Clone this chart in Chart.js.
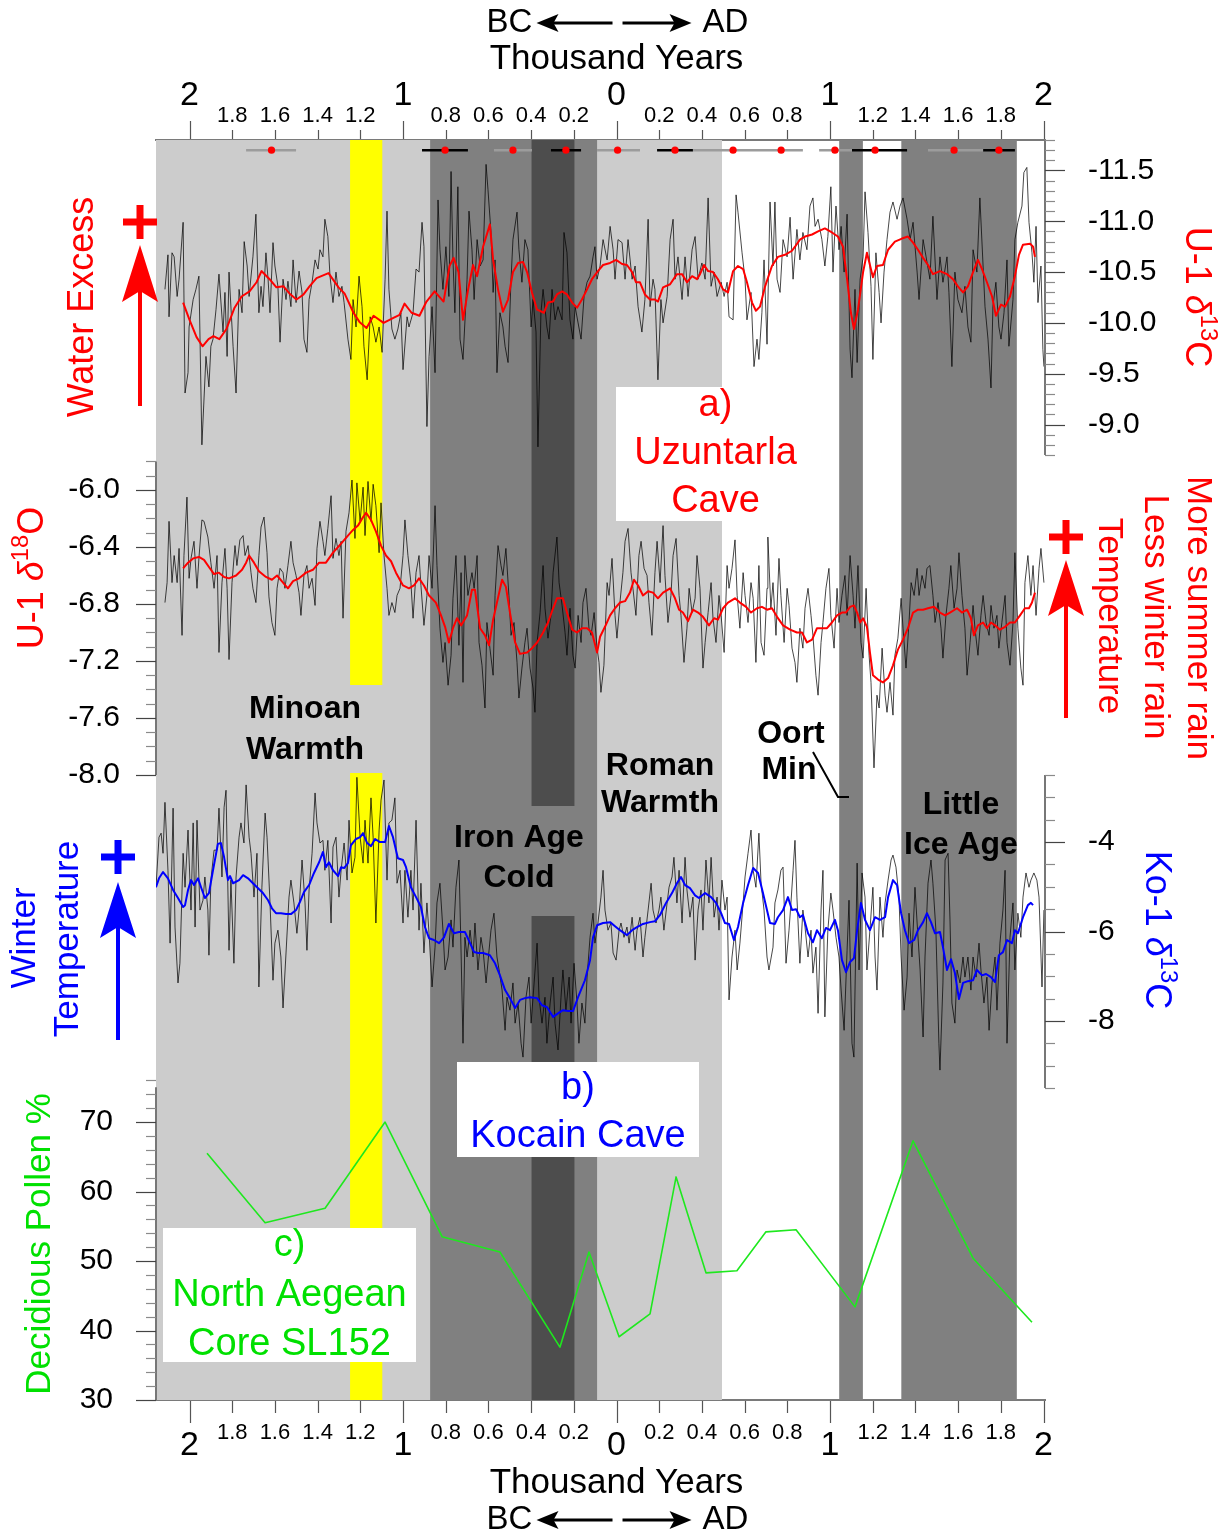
<!DOCTYPE html>
<html>
<head>
<meta charset="utf-8">
<title>Uzuntarla and Kocain cave isotope records with North Aegean pollen</title>
<style>
  html, body { margin: 0; padding: 0; background: #ffffff; }
  canvas { display: block; }
</style>
<script src="https://cdn.jsdelivr.net/npm/chart.js@4.4.1/dist/chart.umd.min.js"></script>
</head>
<body>
<canvas id="chart" width="1224" height="1539"></canvas>
<script>
const FONT = "'Liberation Sans', Arial, Helvetica, sans-serif";

// ---- time axis (years AD, BC negative) ----
const yearMin = -2157;
const yearMax = 2007;
const yearTicks = [-2000,-1800,-1600,-1400,-1200,-1000,-800,-600,-400,-200,0,200,400,600,800,1000,1200,1400,1600,1800,2000];

// ---- a) Uzuntarla Cave, U-1 d13C (per mil): [year, value] ----
const u1C13Raw = [[-2115,-10.33],[-2101,-10.67],[-2096,-10.06],[-2082,-10.69],[-2072,-10.65],[-2058,-10.26],[-2049,-10.43],[-2030,-10.99],[-2021,-9.31],[-2007,-9.51],[-2002,-9.96],[-1983,-10.23],[-1970,-10.33],[-1956,-10.46],[-1942,-8.80],[-1923,-9.67],[-1909,-9.37],[-1900,-9.77],[-1890,-9.84],[-1876,-10.13],[-1862,-10.48],[-1843,-9.91],[-1834,-10.30],[-1824,-9.67],[-1815,-10.50],[-1796,-9.77],[-1782,-9.31],[-1768,-10.33],[-1754,-10.10],[-1744,-10.80],[-1730,-10.56],[-1721,-10.26],[-1703,-10.65],[-1689,-11.07],[-1675,-10.10],[-1665,-10.36],[-1656,-10.16],[-1642,-10.69],[-1632,-10.43],[-1623,-10.10],[-1609,-10.79],[-1600,-10.56],[-1586,-10.36],[-1576,-9.81],[-1562,-10.43],[-1548,-10.23],[-1539,-10.41],[-1525,-10.16],[-1515,-10.62],[-1501,-10.20],[-1487,-10.51],[-1473,-10.30],[-1464,-9.84],[-1450,-9.71],[-1440,-10.23],[-1426,-10.40],[-1412,-10.62],[-1398,-10.53],[-1389,-10.72],[-1375,-10.65],[-1366,-11.02],[-1352,-10.85],[-1342,-10.46],[-1328,-10.20],[-1314,-10.50],[-1300,-10.26],[-1286,-10.36],[-1276,-10.20],[-1258,-9.84],[-1244,-9.64],[-1234,-10.23],[-1220,-9.96],[-1206,-10.46],[-1192,-10.16],[-1183,-9.77],[-1168,-9.44],[-1154,-10.06],[-1140,-9.96],[-1127,-9.81],[-1112,-9.96],[-1098,-9.71],[-1084,-10.43],[-1075,-11.10],[-1066,-10.33],[-1052,-9.94],[-1038,-9.84],[-1024,-9.94],[-1010,-10.10],[-1000,-9.54],[-981,-10.06],[-972,-9.96],[-953,-10.10],[-939,-10.53],[-925,-10.50],[-911,-10.99],[-902,-10.75],[-888,-8.98],[-878,-9.67],[-864,-10.16],[-850,-9.51],[-836,-11.21],[-827,-10.72],[-813,-10.33],[-799,-10.75],[-785,-10.26],[-775,-11.49],[-766,-10.62],[-757,-10.10],[-743,-11.34],[-733,-9.84],[-719,-9.64],[-700,-10.43],[-691,-11.10],[-677,-10.72],[-667,-10.23],[-653,-10.82],[-639,-10.56],[-625,-10.62],[-611,-11.56],[-602,-11.31],[-588,-10.89],[-578,-10.30],[-569,-10.62],[-560,-9.51],[-546,-10.10],[-532,-9.96],[-522,-9.77],[-508,-9.61],[-494,-10.43],[-485,-10.82],[-466,-11.09],[-457,-10.72],[-443,-10.40],[-429,-10.82],[-415,-10.72],[-400,-9.96],[-391,-10.23],[-377,-9.91],[-368,-8.78],[-354,-10.10],[-344,-10.33],[-326,-9.96],[-316,-9.84],[-302,-10.33],[-288,-10.03],[-274,-10.16],[-255,-10.03],[-246,-10.89],[-232,-10.69],[-218,-10.03],[-204,-9.84],[-194,-10.16],[-180,-10.00],[-166,-9.84],[-152,-10.26],[-138,-10.40],[-124,-10.46],[-110,-10.65],[-101,-10.75],[-91,-10.43],[-77,-10.56],[-63,-10.82],[-44,-10.62],[-30,-10.95],[-16,-10.72],[-7,-10.43],[7,-10.82],[26,-10.79],[40,-10.43],[54,-10.82],[73,-10.43],[87,-10.56],[101,-10.16],[119,-9.91],[133,-10.23],[148,-11.02],[157,-10.16],[171,-10.43],[180,-10.33],[194,-9.44],[208,-10.23],[218,-10.00],[237,-10.26],[251,-10.82],[265,-11.02],[274,-10.43],[288,-10.65],[307,-10.23],[321,-10.65],[335,-10.26],[354,-10.72],[368,-10.85],[382,-10.43],[400,-10.59],[415,-10.43],[429,-11.23],[443,-10.36],[457,-10.50],[471,-10.26],[490,-10.40],[504,-10.26],[518,-10.40],[527,-10.06],[546,-10.03],[560,-11.26],[569,-11.09],[588,-10.69],[602,-10.43],[611,-10.03],[630,-10.30],[644,-9.57],[658,-9.84],[667,-9.64],[681,-10.10],[691,-10.62],[705,-9.79],[719,-11.19],[733,-10.56],[742,-11.19],[752,-10.43],[766,-10.30],[780,-10.82],[799,-10.65],[813,-11.04],[827,-10.43],[845,-10.92],[859,-10.62],[873,-10.89],[892,-10.72],[906,-11.15],[920,-11.23],[930,-10.95],[944,-11.02],[962,-10.82],[976,-10.56],[990,-10.85],[1004,-11.34],[1014,-10.50],[1028,-11.15],[1042,-10.72],[1052,-10.95],[1066,-10.50],[1080,-11.07],[1094,-9.74],[1103,-9.46],[1117,-10.33],[1127,-9.61],[1141,-10.43],[1155,-10.65],[1164,-11.29],[1178,-10.89],[1192,-10.36],[1201,-9.64],[1215,-10.69],[1230,-10.30],[1239,-10.00],[1253,-10.50],[1267,-10.82],[1281,-11.09],[1295,-11.19],[1314,-11.02],[1328,-11.15],[1342,-11.23],[1361,-11.02],[1375,-10.82],[1389,-10.99],[1408,-10.50],[1417,-10.23],[1436,-10.82],[1450,-10.65],[1468,-10.43],[1482,-11.05],[1501,-10.23],[1515,-10.65],[1529,-10.40],[1548,-10.65],[1557,-10.30],[1571,-9.57],[1585,-10.50],[1599,-10.23],[1618,-10.10],[1632,-10.36],[1646,-9.96],[1660,-9.81],[1670,-10.72],[1688,-10.50],[1702,-11.23],[1717,-10.56],[1726,-10.16],[1740,-9.84],[1754,-9.36],[1763,-10.16],[1777,-10.40],[1791,-9.96],[1801,-9.84],[1815,-10.10],[1829,-10.62],[1838,-9.77],[1857,-10.23],[1866,-10.82],[1880,-10.99],[1899,-11.15],[1908,-11.48],[1922,-11.53],[1932,-10.99],[1946,-10.69],[1955,-10.40],[1965,-10.95],[1974,-10.20],[1988,-10.56],[1997,-9.74],[2002,-9.57]];

const u1C13Smooth = [[-2030,-10.20],[-2000,-10.03],[-1967,-9.86],[-1939,-9.77],[-1911,-9.84],[-1888,-9.87],[-1860,-9.84],[-1827,-9.94],[-1789,-10.15],[-1756,-10.26],[-1719,-10.31],[-1686,-10.40],[-1663,-10.51],[-1625,-10.43],[-1593,-10.35],[-1560,-10.36],[-1532,-10.29],[-1499,-10.23],[-1466,-10.28],[-1438,-10.36],[-1405,-10.44],[-1349,-10.49],[-1302,-10.35],[-1274,-10.29],[-1232,-10.10],[-1204,-10.01],[-1171,-9.95],[-1138,-10.07],[-1091,-10.00],[-1045,-10.05],[-1016,-10.08],[-993,-10.19],[-960,-10.10],[-923,-10.07],[-890,-10.21],[-852,-10.31],[-810,-10.21],[-782,-10.56],[-763,-10.64],[-740,-10.50],[-719,-10.03],[-695,-10.33],[-672,-10.57],[-653,-10.46],[-625,-10.75],[-593,-10.97],[-578,-10.62],[-555,-10.33],[-532,-10.11],[-508,-10.23],[-485,-10.50],[-461,-10.59],[-438,-10.60],[-419,-10.50],[-396,-10.30],[-372,-10.13],[-340,-10.10],[-321,-10.20],[-297,-10.21],[-279,-10.28],[-255,-10.31],[-232,-10.28],[-208,-10.20],[-185,-10.15],[-162,-10.23],[-138,-10.33],[-115,-10.43],[-87,-10.51],[-63,-10.57],[-30,-10.59],[-2,-10.62],[26,-10.58],[49,-10.57],[73,-10.50],[91,-10.40],[110,-10.40],[133,-10.28],[157,-10.23],[180,-10.23],[194,-10.21],[218,-10.35],[251,-10.38],[283,-10.48],[307,-10.48],[330,-10.40],[354,-10.46],[377,-10.43],[391,-10.48],[410,-10.57],[429,-10.51],[452,-10.50],[475,-10.43],[499,-10.33],[522,-10.30],[546,-10.51],[569,-10.56],[593,-10.53],[611,-10.40],[635,-10.20],[653,-10.12],[672,-10.16],[696,-10.36],[728,-10.56],[756,-10.65],[789,-10.67],[822,-10.71],[836,-10.75],[859,-10.82],[883,-10.85],[916,-10.87],[944,-10.90],[976,-10.93],[1009,-10.89],[1037,-10.85],[1061,-10.75],[1080,-10.43],[1098,-10.10],[1112,-9.94],[1131,-10.13],[1155,-10.50],[1173,-10.69],[1201,-10.45],[1220,-10.56],[1248,-10.57],[1272,-10.72],[1304,-10.80],[1337,-10.83],[1365,-10.85],[1389,-10.79],[1412,-10.72],[1436,-10.64],[1459,-10.57],[1482,-10.48],[1515,-10.51],[1548,-10.48],[1576,-10.43],[1599,-10.36],[1623,-10.30],[1646,-10.36],[1670,-10.50],[1693,-10.62],[1712,-10.53],[1735,-10.40],[1759,-10.26],[1777,-10.07],[1801,-10.18],[1820,-10.16],[1843,-10.26],[1866,-10.46],[1885,-10.67],[1904,-10.77],[1937,-10.78],[1951,-10.75],[1960,-10.65]];

// ---- a) Uzuntarla Cave, U-1 d18O (per mil) ----
const u1O18Raw = [[-2115,-6.79],[-2105,-6.65],[-2096,-6.22],[-2082,-6.65],[-2072,-6.46],[-2058,-6.65],[-2049,-6.41],[-2035,-7.02],[-2026,-6.46],[-2012,-6.05],[-2002,-6.62],[-1993,-6.48],[-1979,-6.36],[-1965,-6.69],[-1956,-6.48],[-1942,-6.21],[-1932,-6.22],[-1914,-6.33],[-1900,-6.51],[-1885,-6.69],[-1871,-6.46],[-1862,-7.14],[-1848,-6.65],[-1834,-6.41],[-1824,-6.69],[-1815,-7.19],[-1801,-6.65],[-1787,-6.39],[-1778,-6.53],[-1764,-6.35],[-1749,-6.32],[-1740,-6.46],[-1726,-6.39],[-1712,-6.58],[-1703,-6.69],[-1689,-6.79],[-1675,-6.46],[-1665,-6.26],[-1651,-6.19],[-1637,-6.44],[-1628,-6.75],[-1614,-6.93],[-1600,-7.02],[-1590,-6.69],[-1576,-6.55],[-1562,-6.58],[-1553,-6.69],[-1539,-6.53],[-1525,-6.36],[-1515,-6.51],[-1501,-6.60],[-1487,-6.72],[-1478,-6.88],[-1464,-6.60],[-1450,-6.53],[-1440,-6.69],[-1426,-6.62],[-1412,-6.81],[-1403,-6.41],[-1389,-6.22],[-1375,-6.36],[-1366,-6.46],[-1352,-6.27],[-1337,-6.04],[-1328,-6.48],[-1314,-6.34],[-1300,-6.46],[-1290,-6.36],[-1281,-6.90],[-1267,-6.29],[-1253,-6.16],[-1239,-5.93],[-1225,-6.34],[-1216,-5.95],[-1201,-6.22],[-1187,-5.98],[-1178,-6.32],[-1164,-5.94],[-1150,-6.22],[-1140,-5.96],[-1127,-6.11],[-1112,-6.44],[-1103,-6.09],[-1089,-6.46],[-1075,-6.69],[-1066,-6.88],[-1052,-6.79],[-1038,-6.86],[-1028,-6.74],[-1014,-6.69],[-1000,-6.46],[-991,-6.21],[-977,-6.46],[-963,-6.65],[-953,-6.90],[-939,-6.58],[-925,-6.46],[-916,-6.67],[-902,-6.95],[-888,-6.74],[-878,-6.46],[-864,-6.69],[-850,-6.11],[-841,-6.53],[-827,-6.97],[-813,-7.21],[-803,-7.07],[-789,-7.37],[-775,-7.16],[-766,-6.76],[-752,-6.46],[-738,-7.09],[-728,-6.58],[-719,-7.35],[-710,-6.46],[-696,-6.74],[-677,-6.58],[-667,-6.69],[-653,-6.46],[-644,-7.07],[-630,-7.23],[-616,-7.53],[-607,-6.93],[-593,-7.11],[-578,-7.30],[-569,-6.74],[-555,-6.39],[-541,-6.53],[-532,-6.60],[-518,-6.41],[-504,-6.74],[-494,-7.02],[-480,-6.93],[-466,-7.21],[-457,-7.46],[-443,-7.25],[-429,-7.07],[-419,-6.97],[-405,-7.25],[-391,-7.39],[-382,-7.56],[-372,-7.07],[-358,-6.86],[-344,-6.53],[-335,-6.83],[-321,-7.04],[-307,-6.88],[-297,-6.58],[-279,-6.33],[-269,-6.65],[-255,-6.81],[-241,-7.00],[-232,-7.16],[-218,-6.83],[-204,-7.16],[-194,-7.25],[-180,-6.88],[-166,-7.07],[-157,-6.79],[-143,-6.69],[-129,-6.97],[-119,-7.02],[-105,-6.86],[-91,-7.11],[-82,-7.21],[-73,-7.42],[-59,-7.23],[-44,-6.65],[-35,-6.74],[-21,-6.48],[-7,-6.88],[2,-7.04],[16,-6.79],[30,-6.58],[40,-6.36],[54,-6.27],[68,-6.58],[77,-6.69],[91,-6.88],[105,-6.46],[115,-6.36],[129,-6.55],[143,-6.60],[152,-6.79],[166,-7.02],[180,-6.58],[190,-6.36],[204,-6.65],[218,-6.25],[227,-6.60],[241,-6.93],[255,-6.74],[265,-6.46],[279,-6.34],[293,-6.74],[302,-6.88],[316,-7.21],[330,-6.97],[340,-6.69],[354,-6.86],[368,-6.76],[377,-6.46],[391,-6.69],[405,-7.25],[415,-7.07],[429,-6.86],[443,-6.65],[452,-6.90],[466,-7.07],[480,-6.74],[490,-6.88],[504,-7.14],[518,-6.53],[527,-6.69],[541,-6.55],[555,-6.35],[565,-6.74],[578,-6.97],[593,-6.58],[602,-6.74],[616,-6.93],[630,-6.65],[640,-6.76],[653,-7.21],[667,-6.53],[677,-7.07],[691,-7.16],[705,-6.69],[709,-6.33],[723,-6.83],[733,-6.65],[747,-7.02],[761,-6.48],[770,-6.74],[785,-7.07],[799,-6.69],[808,-6.81],[822,-7.11],[836,-7.21],[845,-7.35],[859,-6.97],[873,-7.11],[883,-6.83],[897,-6.69],[911,-6.88],[920,-7.02],[934,-7.30],[944,-7.44],[958,-7.07],[967,-6.93],[981,-6.69],[995,-6.55],[1004,-6.88],[1019,-7.11],[1033,-6.69],[1042,-6.93],[1056,-6.74],[1070,-6.60],[1080,-6.88],[1094,-6.46],[1108,-6.74],[1117,-6.97],[1131,-6.53],[1145,-7.07],[1155,-7.18],[1169,-6.69],[1183,-7.16],[1192,-7.35],[1206,-7.95],[1220,-7.44],[1230,-7.53],[1244,-7.11],[1258,-7.44],[1267,-7.56],[1281,-7.35],[1295,-7.58],[1304,-7.16],[1318,-7.04],[1333,-6.76],[1342,-6.97],[1356,-7.25],[1370,-6.93],[1380,-6.65],[1394,-6.74],[1408,-6.55],[1417,-6.74],[1431,-6.60],[1445,-6.69],[1454,-6.55],[1468,-6.53],[1482,-6.74],[1492,-6.93],[1506,-6.79],[1520,-6.97],[1529,-7.18],[1543,-6.88],[1557,-6.69],[1566,-6.53],[1581,-6.83],[1595,-6.69],[1604,-6.44],[1618,-6.74],[1632,-6.97],[1642,-7.30],[1656,-7.07],[1670,-6.81],[1679,-6.97],[1693,-7.16],[1707,-6.88],[1717,-6.74],[1731,-6.93],[1745,-7.02],[1754,-6.81],[1768,-6.97],[1782,-6.88],[1791,-7.11],[1805,-6.93],[1820,-6.74],[1829,-7.07],[1843,-7.23],[1857,-6.93],[1866,-6.44],[1880,-6.97],[1894,-7.25],[1904,-7.37],[1913,-6.65],[1927,-6.46],[1941,-6.74],[1951,-6.53],[1965,-6.88],[1979,-6.55],[1988,-6.41],[2002,-6.65]];

const u1O18Smooth = [[-2030,-6.55],[-2007,-6.51],[-1983,-6.48],[-1956,-6.47],[-1932,-6.49],[-1909,-6.54],[-1885,-6.59],[-1862,-6.58],[-1838,-6.61],[-1815,-6.62],[-1782,-6.60],[-1754,-6.56],[-1735,-6.51],[-1721,-6.46],[-1698,-6.51],[-1675,-6.57],[-1642,-6.61],[-1614,-6.63],[-1590,-6.60],[-1562,-6.65],[-1539,-6.69],[-1515,-6.64],[-1487,-6.62],[-1454,-6.58],[-1422,-6.56],[-1393,-6.51],[-1361,-6.51],[-1328,-6.44],[-1304,-6.40],[-1281,-6.36],[-1258,-6.32],[-1234,-6.28],[-1211,-6.25],[-1187,-6.19],[-1173,-6.16],[-1150,-6.21],[-1127,-6.29],[-1103,-6.39],[-1080,-6.46],[-1056,-6.50],[-1033,-6.58],[-1000,-6.67],[-972,-6.69],[-949,-6.67],[-925,-6.62],[-902,-6.67],[-878,-6.74],[-846,-6.79],[-822,-6.88],[-803,-6.96],[-785,-7.07],[-766,-6.97],[-747,-6.90],[-728,-6.95],[-700,-6.88],[-677,-6.70],[-663,-6.70],[-639,-6.97],[-616,-7.02],[-597,-7.09],[-578,-6.91],[-560,-6.79],[-536,-6.63],[-518,-6.68],[-499,-6.86],[-475,-7.07],[-452,-7.15],[-419,-7.14],[-396,-7.11],[-372,-7.07],[-344,-7.00],[-321,-6.93],[-297,-6.83],[-279,-6.76],[-251,-6.76],[-232,-6.86],[-208,-6.98],[-185,-7.00],[-162,-6.97],[-138,-6.97],[-115,-7.00],[-91,-7.14],[-77,-7.03],[-54,-6.96],[-30,-6.88],[-7,-6.83],[16,-6.79],[40,-6.78],[63,-6.72],[82,-6.63],[101,-6.67],[124,-6.74],[148,-6.71],[171,-6.72],[194,-6.76],[218,-6.72],[251,-6.69],[274,-6.76],[293,-6.84],[311,-6.86],[335,-6.92],[358,-6.84],[382,-6.86],[405,-6.89],[433,-6.95],[457,-6.90],[475,-6.91],[499,-6.83],[522,-6.79],[555,-6.76],[578,-6.79],[607,-6.82],[630,-6.86],[658,-6.83],[681,-6.82],[705,-6.84],[728,-6.83],[752,-6.89],[780,-6.95],[813,-6.98],[845,-7.00],[869,-7.00],[892,-7.07],[916,-7.05],[939,-6.97],[962,-6.97],[986,-6.97],[1009,-6.93],[1033,-6.88],[1056,-6.86],[1075,-6.86],[1094,-6.82],[1112,-6.81],[1127,-6.86],[1141,-6.93],[1155,-6.90],[1173,-6.96],[1187,-7.14],[1201,-7.30],[1225,-7.33],[1248,-7.35],[1272,-7.32],[1295,-7.23],[1318,-7.12],[1342,-7.05],[1365,-6.97],[1389,-6.86],[1412,-6.84],[1436,-6.84],[1459,-6.83],[1487,-6.82],[1515,-6.86],[1539,-6.88],[1562,-6.86],[1595,-6.83],[1618,-6.86],[1642,-6.84],[1660,-6.90],[1674,-7.02],[1693,-6.95],[1717,-6.93],[1735,-6.97],[1754,-6.93],[1773,-6.95],[1796,-6.98],[1820,-6.96],[1843,-6.93],[1866,-6.93],[1890,-6.88],[1913,-6.83],[1932,-6.83],[1946,-6.79],[1960,-6.72]];

// ---- b) Kocain Cave, Ko-1 d13C (per mil) ----
const ko1C13Raw = [[-2157,-5.01],[-2143,-3.89],[-2133,-3.80],[-2124,-4.25],[-2115,-3.11],[-2101,-4.63],[-2091,-6.26],[-2077,-3.24],[-2068,-5.90],[-2054,-7.15],[-2045,-6.71],[-2030,-4.25],[-2021,-5.01],[-2007,-3.73],[-1993,-5.52],[-1983,-3.57],[-1974,-5.90],[-1965,-3.51],[-1951,-5.52],[-1937,-5.30],[-1928,-4.78],[-1914,-5.52],[-1909,-6.53],[-1900,-4.85],[-1885,-4.18],[-1871,-4.18],[-1862,-3.24],[-1848,-4.78],[-1838,-3.22],[-1829,-2.84],[-1815,-6.42],[-1806,-4.85],[-1792,-6.71],[-1782,-4.78],[-1768,-3.89],[-1759,-3.57],[-1745,-4.02],[-1735,-2.72],[-1721,-3.89],[-1712,-4.25],[-1698,-5.23],[-1684,-4.25],[-1675,-7.24],[-1661,-5.01],[-1646,-3.35],[-1637,-3.89],[-1623,-5.36],[-1609,-7.09],[-1600,-6.26],[-1586,-5.97],[-1572,-6.57],[-1562,-7.71],[-1548,-6.48],[-1534,-5.23],[-1525,-4.85],[-1511,-5.36],[-1497,-6.04],[-1487,-5.52],[-1473,-4.40],[-1459,-5.36],[-1450,-6.42],[-1440,-5.07],[-1426,-4.25],[-1412,-2.90],[-1403,-3.57],[-1389,-4.02],[-1375,-3.96],[-1366,-4.63],[-1352,-3.96],[-1337,-5.81],[-1328,-4.11],[-1314,-3.89],[-1300,-5.23],[-1290,-4.63],[-1276,-4.02],[-1262,-4.85],[-1253,-3.51],[-1239,-4.69],[-1225,-4.34],[-1216,-2.55],[-1201,-3.89],[-1187,-4.47],[-1178,-3.51],[-1164,-4.47],[-1150,-3.01],[-1140,-3.89],[-1127,-5.81],[-1112,-3.73],[-1103,-3.06],[-1089,-2.61],[-1075,-4.85],[-1066,-3.57],[-1052,-3.51],[-1038,-3.01],[-1028,-4.92],[-1014,-4.63],[-1000,-5.81],[-991,-4.63],[-977,-5.68],[-963,-4.63],[-953,-5.52],[-939,-3.51],[-925,-5.97],[-916,-4.92],[-902,-6.48],[-888,-5.36],[-878,-6.04],[-864,-7.24],[-850,-6.35],[-841,-5.36],[-827,-4.92],[-813,-5.97],[-803,-6.86],[-789,-6.57],[-775,-5.74],[-766,-6.35],[-752,-5.01],[-738,-4.40],[-728,-6.48],[-719,-8.50],[-710,-6.13],[-700,-6.57],[-686,-5.97],[-672,-6.57],[-663,-5.81],[-649,-6.86],[-635,-6.13],[-625,-6.42],[-611,-7.15],[-597,-6.42],[-588,-5.97],[-574,-5.59],[-560,-6.57],[-550,-6.86],[-536,-7.31],[-522,-8.21],[-513,-7.47],[-499,-7.76],[-485,-7.15],[-475,-8.05],[-461,-7.60],[-447,-8.50],[-438,-8.81],[-424,-7.47],[-410,-7.02],[-400,-8.05],[-386,-7.15],[-372,-6.26],[-363,-7.47],[-349,-8.05],[-335,-7.47],[-326,-8.50],[-311,-7.60],[-297,-7.02],[-288,-8.05],[-274,-8.65],[-260,-7.47],[-251,-6.86],[-237,-7.76],[-222,-7.02],[-213,-8.05],[-199,-6.71],[-185,-7.60],[-176,-8.50],[-162,-7.60],[-148,-8.05],[-138,-7.02],[-124,-6.13],[-110,-5.59],[-101,-6.26],[-87,-5.81],[-73,-5.23],[-63,-4.63],[-54,-5.52],[-40,-5.97],[-26,-5.81],[-16,-6.48],[-2,-6.64],[12,-5.97],[21,-5.81],[35,-6.13],[49,-5.90],[59,-6.26],[73,-5.68],[87,-6.42],[96,-5.97],[110,-5.68],[124,-6.57],[133,-6.13],[148,-5.52],[162,-4.92],[171,-5.52],[185,-5.81],[199,-5.52],[208,-5.23],[222,-5.97],[237,-5.36],[246,-5.01],[260,-4.78],[269,-4.34],[283,-5.36],[293,-4.63],[307,-5.81],[321,-4.34],[330,-5.07],[344,-5.68],[358,-5.23],[368,-6.64],[382,-5.52],[396,-5.07],[405,-5.97],[419,-4.40],[433,-5.36],[443,-4.34],[457,-5.68],[471,-5.23],[480,-5.97],[494,-4.85],[508,-5.52],[518,-5.23],[527,-7.53],[541,-6.57],[555,-5.97],[565,-6.86],[578,-6.26],[593,-5.36],[602,-4.78],[616,-4.25],[630,-3.73],[640,-4.63],[653,-5.01],[667,-3.80],[677,-4.92],[691,-5.52],[705,-6.57],[714,-6.86],[733,-6.35],[742,-5.36],[756,-5.07],[770,-4.63],[780,-4.56],[794,-6.71],[808,-5.97],[817,-5.36],[827,-4.63],[836,-3.96],[845,-5.23],[859,-6.71],[873,-5.52],[883,-5.90],[897,-6.57],[911,-5.97],[920,-6.93],[934,-6.35],[944,-7.83],[958,-5.52],[967,-4.63],[976,-7.91],[990,-5.97],[1004,-5.14],[1014,-5.52],[1028,-6.13],[1042,-6.57],[1052,-7.31],[1066,-8.21],[1080,-6.42],[1089,-5.30],[1103,-8.50],[1112,-8.81],[1127,-4.47],[1136,-6.86],[1150,-4.69],[1164,-5.23],[1173,-6.86],[1187,-5.97],[1201,-5.01],[1211,-6.57],[1220,-7.31],[1234,-5.23],[1248,-6.13],[1258,-5.36],[1272,-4.85],[1286,-4.40],[1295,-4.29],[1309,-4.56],[1323,-5.23],[1333,-6.57],[1347,-7.76],[1361,-7.02],[1370,-5.59],[1384,-6.57],[1398,-5.01],[1408,-5.81],[1422,-6.86],[1436,-8.36],[1445,-6.57],[1459,-4.92],[1473,-4.40],[1482,-4.92],[1496,-5.97],[1510,-8.50],[1515,-9.10],[1529,-7.15],[1539,-4.40],[1553,-4.25],[1562,-5.74],[1571,-7.60],[1585,-8.05],[1595,-6.86],[1609,-7.15],[1623,-6.57],[1632,-7.02],[1646,-6.57],[1660,-7.31],[1670,-6.57],[1684,-7.02],[1698,-6.26],[1707,-6.86],[1721,-7.60],[1735,-7.02],[1745,-8.21],[1759,-7.15],[1773,-6.57],[1782,-7.76],[1796,-6.26],[1810,-5.52],[1820,-4.63],[1829,-8.50],[1843,-6.13],[1857,-5.36],[1866,-6.86],[1880,-5.59],[1894,-6.13],[1904,-5.23],[1918,-4.69],[1932,-5.01],[1941,-4.85],[1955,-4.69],[1969,-4.85],[1979,-5.23],[1993,-7.24],[2002,-5.52]];

const ko1C13Smooth = [[-2157,-5.01],[-2143,-4.81],[-2124,-4.67],[-2101,-4.81],[-2077,-5.07],[-2054,-5.25],[-2030,-5.45],[-2021,-5.41],[-2007,-5.07],[-1993,-4.85],[-1979,-4.96],[-1960,-4.81],[-1946,-5.01],[-1928,-5.25],[-1909,-5.14],[-1890,-4.63],[-1867,-4.04],[-1853,-4.02],[-1838,-4.34],[-1820,-4.85],[-1810,-4.76],[-1796,-4.92],[-1768,-4.85],[-1749,-4.74],[-1726,-4.81],[-1703,-4.92],[-1679,-5.03],[-1656,-5.14],[-1632,-5.30],[-1614,-5.48],[-1595,-5.59],[-1572,-5.59],[-1548,-5.61],[-1525,-5.61],[-1501,-5.52],[-1483,-5.34],[-1464,-5.12],[-1440,-4.96],[-1417,-4.69],[-1393,-4.45],[-1375,-4.22],[-1361,-4.56],[-1347,-4.45],[-1328,-4.63],[-1304,-4.76],[-1290,-4.56],[-1276,-4.58],[-1258,-4.47],[-1244,-4.07],[-1220,-3.93],[-1201,-3.89],[-1187,-3.80],[-1168,-4.02],[-1150,-4.09],[-1131,-3.93],[-1108,-4.00],[-1084,-4.00],[-1066,-3.64],[-1047,-3.89],[-1024,-4.36],[-1000,-4.40],[-986,-4.56],[-963,-5.01],[-939,-5.23],[-916,-5.45],[-897,-5.90],[-878,-6.15],[-855,-6.19],[-831,-6.26],[-808,-6.13],[-785,-5.83],[-761,-6.04],[-738,-6.01],[-710,-6.01],[-686,-6.26],[-667,-6.46],[-649,-6.48],[-625,-6.48],[-593,-6.53],[-569,-6.71],[-546,-6.98],[-522,-7.31],[-499,-7.49],[-475,-7.71],[-452,-7.53],[-429,-7.49],[-405,-7.47],[-372,-7.49],[-349,-7.65],[-326,-7.69],[-297,-7.91],[-274,-7.83],[-251,-7.76],[-227,-7.78],[-204,-7.78],[-180,-7.47],[-148,-7.09],[-124,-6.64],[-110,-6.13],[-91,-5.86],[-63,-5.81],[-30,-5.79],[-7,-5.88],[16,-5.97],[49,-6.08],[73,-5.97],[96,-5.90],[124,-5.83],[157,-5.79],[180,-5.77],[204,-5.63],[232,-5.36],[260,-5.14],[283,-4.92],[302,-4.78],[321,-4.96],[344,-5.03],[368,-5.19],[386,-5.25],[415,-5.14],[443,-5.23],[466,-5.36],[490,-5.59],[508,-5.81],[527,-5.83],[550,-6.19],[569,-5.90],[593,-5.36],[616,-4.96],[640,-4.58],[663,-4.69],[686,-5.14],[719,-5.81],[742,-5.83],[756,-5.68],[780,-5.52],[803,-5.23],[822,-5.52],[841,-5.50],[859,-5.68],[873,-5.63],[897,-6.04],[920,-6.24],[939,-5.97],[962,-6.15],[981,-5.92],[1000,-5.97],[1023,-5.74],[1037,-5.97],[1056,-6.64],[1075,-6.91],[1094,-6.68],[1112,-6.60],[1127,-5.97],[1145,-5.36],[1164,-5.74],[1187,-5.97],[1211,-5.68],[1234,-5.74],[1258,-5.68],[1272,-5.23],[1295,-4.85],[1314,-4.96],[1333,-5.59],[1351,-5.97],[1370,-6.26],[1394,-6.19],[1412,-5.97],[1436,-5.79],[1454,-5.59],[1473,-5.79],[1492,-6.04],[1515,-6.01],[1529,-6.35],[1548,-6.86],[1567,-6.62],[1585,-6.93],[1604,-7.51],[1623,-7.15],[1646,-7.11],[1670,-7.09],[1688,-6.86],[1712,-6.98],[1731,-6.95],[1754,-7.02],[1773,-7.13],[1791,-6.53],[1810,-6.46],[1829,-6.19],[1852,-6.26],[1866,-5.97],[1880,-6.04],[1904,-5.68],[1927,-5.41],[1941,-5.36],[1951,-5.41]];

// ---- c) North Aegean core SL152, deciduous pollen (%) ----
const pollenSL152 = [[-1918,65.5],[-1646,55.5],[-1365,57.6],[-1084,70.0],[-817,53.5],[-546,51.3],[-265,37.6],[-129,51.3],[12,39.1],[157,42.4],[279,62.1],[419,48.3],[564,48.6],[700,54.2],[841,54.5],[1117,43.4],[1389,67.3],[1670,50.4],[1946,41.2]];

// ---- U-Th dates on U-1 with 2-sigma ranges (years); set 1 and set 2 ----
const datingAge  = [-1616,-803,-485,-237,5,274,546,771,1023,1211,1581,1791];
const datingFrom = [-1735,-911,-574,-307,-91,190,358,710,949,1103,1459,1717];
const datingTo   = [-1501,-696,-396,-166,110,358,710,873,1103,1361,1717,1866];
const datingSet  = [1,2,1,2,1,2,1,1,1,2,1,2];
const datingRow  = -11.70;   // drawn just under the top axis, on the U-1 d13C scale

// ---- climate periods (years) ----
const periodMinoanToRoman = [-2157, 494];
const periodMinoanPeak    = [-1248, -1097];
const periodIronAge       = [-873, -91];
const periodIronAgeCore   = [-398, -197];
const periodOortMin       = [1043, 1154];
const periodLIA           = [1334, 1875];

// ---- axis ticks ----
const u1C13Ticks = [-11.5,-11.0,-10.5,-10.0,-9.5,-9.0];
const u1O18Ticks = [-6.0,-6.4,-6.8,-7.2,-7.6,-8.0];
const ko1C13Ticks = [-4,-6,-8];
const pollenTicks = [30,40,50,60,70];

const toXY = pairs => pairs.map(p => ({ x: p[0], y: p[1] }));

function datingBars(set) {
  const out = [];
  datingAge.forEach((a, i) => {
    if (datingSet[i] !== set) return;
    out.push({ x: datingFrom[i], y: datingRow }, { x: datingTo[i], y: datingRow }, { x: datingTo[i], y: null });
  });
  return out;
}

// ---------- drawing helpers ----------
function strokeLine(ctx, x1, y1, x2, y2) {
  ctx.beginPath(); ctx.moveTo(x1, y1); ctx.lineTo(x2, y2); ctx.stroke();
}

// text made of runs (italic delta, superscript isotope mass), optionally rotated
function drawRich(ctx, parts, cx, cy, angle, size, color) {
  ctx.save();
  ctx.translate(cx, cy);
  ctx.rotate(angle);
  ctx.fillStyle = color;
  ctx.textBaseline = 'middle';
  ctx.textAlign = 'left';
  const runs = parts.map(p => {
    const s = p.sup ? size * 0.66 : size;
    const font = (p.it ? 'italic ' : '') + s + 'px ' + FONT;
    ctx.font = font;
    return { p, font, w: ctx.measureText(p.t).width };
  });
  let xx = -runs.reduce((a, r) => a + r.w, 0) / 2;
  runs.forEach(r => {
    ctx.font = r.font;
    ctx.fillText(r.p.t, xx, r.p.sup ? -size * 0.33 : 0);
    xx += r.w;
  });
  ctx.restore();
}

function plusSign(ctx, cx, cy, size, thick, color) {
  ctx.fillStyle = color;
  ctx.fillRect(cx - size / 2, cy - thick / 2, size, thick);
  ctx.fillRect(cx - thick / 2, cy - size / 2, thick, size);
}

function upArrow(ctx, x, tipY, wingY, tailY, halfW, color) {
  ctx.fillStyle = color;
  ctx.strokeStyle = color;
  ctx.lineWidth = 4;
  strokeLine(ctx, x, tailY, x, wingY - 12);
  ctx.beginPath();
  ctx.moveTo(x, tipY);
  ctx.lineTo(x + halfW, wingY);
  ctx.lineTo(x, wingY - 11);
  ctx.lineTo(x - halfW, wingY);
  ctx.closePath();
  ctx.fill();
}

function hArrow(ctx, tailX, tipX, y) {
  const dir = Math.sign(tipX - tailX);
  ctx.lineWidth = 3;
  strokeLine(ctx, tailX, y, tipX - dir * 14, y);
  ctx.beginPath();
  ctx.moveTo(tipX, y);
  ctx.lineTo(tipX - dir * 22, y - 9);
  ctx.lineTo(tipX - dir * 17, y);
  ctx.lineTo(tipX - dir * 22, y + 9);
  ctx.closePath();
  ctx.fill();
}

// ---------- plugins ----------
const periodShading = {
  id: 'periodShading',
  beforeDatasetsDraw(chart) {
    const { ctx, chartArea: ca, scales: { x } } = chart;
    const fillSpan = (span, color, gap) => {
      const x0 = x.getPixelForValue(span[0]);
      const x1 = x.getPixelForValue(span[1]);
      ctx.fillStyle = color;
      if (gap) {
        ctx.fillRect(x0, ca.top, x1 - x0, gap[0]);
        ctx.fillRect(x0, ca.top + gap[1], x1 - x0, ca.bottom - ca.top - gap[1]);
      } else {
        ctx.fillRect(x0, ca.top, x1 - x0, ca.bottom - ca.top);
      }
    };
    ctx.save();
    fillSpan(periodMinoanToRoman, '#cccccc');
    fillSpan(periodMinoanPeak, '#ffff00', [545, 633]);
    fillSpan(periodIronAge, '#808080');
    fillSpan(periodIronAgeCore, '#4d4d4d', [666, 776]);
    fillSpan(periodOortMin, '#808080');
    fillSpan(periodLIA, '#808080');
    ctx.restore();
  }
};

const panelLabels = {
  id: 'panelLabels',
  afterDatasetsDraw(chart) {
    const { ctx } = chart;
    ctx.save();
    ctx.textAlign = 'center';
    ctx.textBaseline = 'middle';

    // record labels in white boxes
    const box = (x, y, w, h, lines, color) => {
      ctx.fillStyle = '#ffffff';
      ctx.fillRect(x, y, w, h);
      ctx.fillStyle = color;
      ctx.font = '38px ' + FONT;
      lines.forEach(l => ctx.fillText(l[0], x + w / 2, l[1]));
    };
    box(616, 387, 199, 134, [['a)', 406], ['Uzuntarla', 454], ['Cave', 502]], '#ff0000');
    box(457, 1062, 242, 95, [['b)', 1089], ['Kocain Cave', 1137]], '#0000ff');
    box(163, 1228, 253, 134, [['c)', 1246], ['North Aegean', 1296], ['Core SL152', 1345]], '#00e000');

    // climate period names
    ctx.fillStyle = '#000000';
    ctx.font = 'bold 32px ' + FONT;
    [['Minoan', 305, 709], ['Warmth', 305, 750],
     ['Iron Age', 519, 838], ['Cold', 519, 878],
     ['Roman', 660, 766], ['Warmth', 660, 803],
     ['Oort', 791, 734], ['Min', 789, 770],
     ['Little', 961, 805], ['Ice Age', 961, 845]].forEach(t => ctx.fillText(t[0], t[1], t[2]));

    ctx.strokeStyle = '#000000';
    ctx.lineWidth = 2;
    ctx.beginPath();
    ctx.moveTo(813, 752); ctx.lineTo(838, 797); ctx.lineTo(849, 797);
    ctx.stroke();
    ctx.restore();
  }
};

const axesDecor = {
  id: 'axesDecor',
  afterDraw(chart) {
    const { ctx, chartArea: ca, scales } = chart;
    const { x, yA, yB, yC, yD } = scales;
    ctx.save();

    // tick marks on the time axes
    ctx.strokeStyle = '#555555';
    ctx.lineWidth = 1.2;
    yearTicks.forEach(v => {
      const px = Math.round(x.getPixelForValue(v)) + 0.5;
      const major = v % 1000 === 0;
      strokeLine(ctx, px, ca.top - 1, px, ca.top - (major ? 19 : 10));
      strokeLine(ctx, px, ca.bottom + 1, px, ca.bottom + (major ? 23 : 13));
    });

    // partial value axes with minor ticks
    const valueAxis = (scale, xpos, dir, lo, hi, step, majors) => {
      const p0 = scale.getPixelForValue(lo);
      const p1 = scale.getPixelForValue(hi);
      ctx.strokeStyle = '#777777';
      ctx.lineWidth = 2;
      strokeLine(ctx, xpos, p0, xpos, p1);
      const n = Math.round((hi - lo) / step);
      for (let k = 0; k <= n; k++) {
        const v = lo + k * step;
        const major = majors.some(m => Math.abs(m - v) < 1e-6);
        const py = Math.round(scale.getPixelForValue(v)) + 0.5;
        ctx.strokeStyle = major ? '#444444' : '#8a8a8a';
        ctx.lineWidth = 1.2;
        strokeLine(ctx, xpos, py, xpos + dir * (major ? 20 : 10), py);
      }
    };
    valueAxis(yA, ca.right, 1, -11.8, -8.7, 0.1, u1C13Ticks);
    valueAxis(yC, ca.right, 1, -9.5, -2.5, 0.5, ko1C13Ticks);
    valueAxis(yB, ca.left, -1, -8.0, -5.8, 0.1, u1O18Ticks);
    valueAxis(yD, ca.left, -1, 30, 75, 2, pollenTicks);

    // axis titles
    drawRich(ctx, [{ t: 'U-1 ' }, { t: 'δ', it: true }, { t: '13', sup: true }, { t: 'C' }], 1196, 297, Math.PI / 2, 36, '#ff0000');
    drawRich(ctx, [{ t: 'U-1 ' }, { t: 'δ', it: true }, { t: '18', sup: true }, { t: 'O' }], 33, 578, -Math.PI / 2, 36, '#ff0000');
    drawRich(ctx, [{ t: 'Ko-1 ' }, { t: 'δ', it: true }, { t: '13', sup: true }, { t: 'C' }], 1156, 930, Math.PI / 2, 36, '#0000ff');
    drawRich(ctx, [{ t: 'Decidious Pollen %' }], 40, 1244, -Math.PI / 2, 35, '#00e000');

    // interpretation labels and arrows
    drawRich(ctx, [{ t: 'Water Excess' }], 83, 307, -Math.PI / 2, 36, '#ff0000');
    plusSign(ctx, 140, 222, 34, 7, '#ff0000');
    upArrow(ctx, 140, 245, 302, 406, 18, '#ff0000');

    drawRich(ctx, [{ t: 'More summer rain' }], 1198, 618, Math.PI / 2, 35, '#ff0000');
    drawRich(ctx, [{ t: 'Less winter rain' }], 1155, 617, Math.PI / 2, 35, '#ff0000');
    drawRich(ctx, [{ t: 'Temperature' }], 1109, 616, Math.PI / 2, 35, '#ff0000');
    plusSign(ctx, 1066, 537, 34, 7, '#ff0000');
    upArrow(ctx, 1066, 560, 616, 718, 18, '#ff0000');

    drawRich(ctx, [{ t: 'Winter' }], 25, 938, -Math.PI / 2, 35, '#0000ff');
    drawRich(ctx, [{ t: 'Temperature' }], 68, 939, -Math.PI / 2, 35, '#0000ff');
    plusSign(ctx, 118, 857, 34, 7, '#0000ff');
    upArrow(ctx, 118, 882, 938, 1040, 18, '#0000ff');

    // time axis titles, top and bottom
    const x0 = x.getPixelForValue(0);
    ctx.fillStyle = '#000000';
    ctx.strokeStyle = '#000000';
    ctx.textAlign = 'center';
    ctx.textBaseline = 'middle';
    [[23, 59], [1520, 1483]].forEach(([yBcAd, yTitle]) => {
      ctx.font = '35px ' + FONT;
      ctx.fillText('Thousand Years', x0, yTitle);
      ctx.font = '33px ' + FONT;
      ctx.fillText('BC', x0 - 107, yBcAd);
      ctx.fillText('AD', x0 + 109, yBcAd);
      hArrow(ctx, x0 - 4, x0 - 80, yBcAd);
      hArrow(ctx, x0 + 6, x0 + 75, yBcAd);
    });
    ctx.restore();
  }
};

// ---------- scales ----------
const yearLabel = v => {
  const k = Math.abs(v) / 1000;
  return v % 1000 === 0 ? String(k) : k.toFixed(1);
};
const timeTickFont = (bigLineHeight) => c => (c.tick && c.tick.value % 1000 === 0)
  ? { family: FONT, size: 34, lineHeight: bigLineHeight }
  : { family: FONT, size: 22, lineHeight: 1.2 };

function timeScale(position, height, padding, bigLineHeight) {
  return {
    type: 'linear', position, min: yearMin, max: yearMax,
    afterBuildTicks: s => { s.ticks = yearTicks.map(v => ({ value: v })); },
    afterFit: s => { s.height = height; },
    grid: { display: false, drawTicks: false },
    border: { display: true, color: '#7a7a7a', width: 2 },
    ticks: { autoSkip: false, maxRotation: 0, padding, color: '#000000', font: timeTickFont(bigLineHeight), callback: yearLabel }
  };
}

function valueScale(position, stackWeight, weight, min, max, reverse, majors, fmt, padding) {
  return {
    type: 'linear', position, stack: position, stackWeight, weight, min, max, reverse,
    afterBuildTicks: s => { s.ticks = majors.map(v => ({ value: v })); },
    afterFit: s => { s.width = position === 'left' ? 156 : 179; },
    grid: { display: false, drawTicks: false },
    border: { display: false },
    ticks: { autoSkip: false, padding, color: '#000000', font: { family: FONT, size: 30 }, callback: fmt }
  };
}

const lineBase = { pointRadius: 0, borderJoinStyle: 'round', tension: 0, fill: false, xAxisID: 'x' };

new Chart(document.getElementById('chart'), {
  type: 'line',
  data: {
    datasets: [
      { ...lineBase, label: 'U-Th ages', data: datingAge.map(a => ({ x: a, y: datingRow })), yAxisID: 'yA',
        showLine: false, pointRadius: 3.6, pointBackgroundColor: '#ff0000', pointBorderWidth: 0, borderColor: '#ff0000' },
      { ...lineBase, label: 'age range, set 1', data: datingBars(1), yAxisID: 'yA', borderColor: '#9c9c9c', borderWidth: 2.5, borderCapStyle: 'butt' },
      { ...lineBase, label: 'age range, set 2', data: datingBars(2), yAxisID: 'yA', borderColor: '#000000', borderWidth: 2.5, borderCapStyle: 'butt' },
      { ...lineBase, label: 'U-1 δ13C smoothed', data: toXY(u1C13Smooth), yAxisID: 'yA', borderColor: '#ff0000', borderWidth: 2 },
      { ...lineBase, label: 'U-1 δ18O smoothed', data: toXY(u1O18Smooth), yAxisID: 'yB', borderColor: '#ff0000', borderWidth: 2 },
      { ...lineBase, label: 'Ko-1 δ13C smoothed', data: toXY(ko1C13Smooth), yAxisID: 'yC', borderColor: '#0000ff', borderWidth: 2 },
      { ...lineBase, label: 'Deciduous pollen %', data: toXY(pollenSL152), yAxisID: 'yD', borderColor: '#1ee81e', borderWidth: 1.6 },
      { ...lineBase, label: 'U-1 δ13C', data: toXY(u1C13Raw), yAxisID: 'yA', borderColor: 'rgba(0,0,0,0.72)', borderWidth: 1 },
      { ...lineBase, label: 'U-1 δ18O', data: toXY(u1O18Raw), yAxisID: 'yB', borderColor: 'rgba(0,0,0,0.72)', borderWidth: 1 },
      { ...lineBase, label: 'Ko-1 δ13C', data: toXY(ko1C13Raw), yAxisID: 'yC', borderColor: 'rgba(0,0,0,0.72)', borderWidth: 1 }
    ]
  },
  options: {
    responsive: false,
    animation: false,
    devicePixelRatio: 1,
    layout: { padding: 0 },
    plugins: { legend: { display: false }, tooltip: { enabled: false } },
    scales: {
      x: timeScale('bottom', 139, 19.8, 1.54),
      xTop: timeScale('top', 140, 10.8, 1.95),
      yA: valueScale('right', 315, 0, -11.8, -8.7, true, u1C13Ticks, v => v.toFixed(1), 43),
      yC: valueScale('right', 945, 1, -16.48, 4.66, false, ko1C13Ticks, v => String(v), 43),
      yB: valueScale('left', 635, 1, -8.0, -3.544, false, u1O18Ticks, v => v.toFixed(1), 36),
      yD: valueScale('left', 625, 0, 30, 119.94, false, pollenTicks, v => String(v), 43)
    }
  },
  plugins: [periodShading, panelLabels, axesDecor]
});
</script>
</body>
</html>
